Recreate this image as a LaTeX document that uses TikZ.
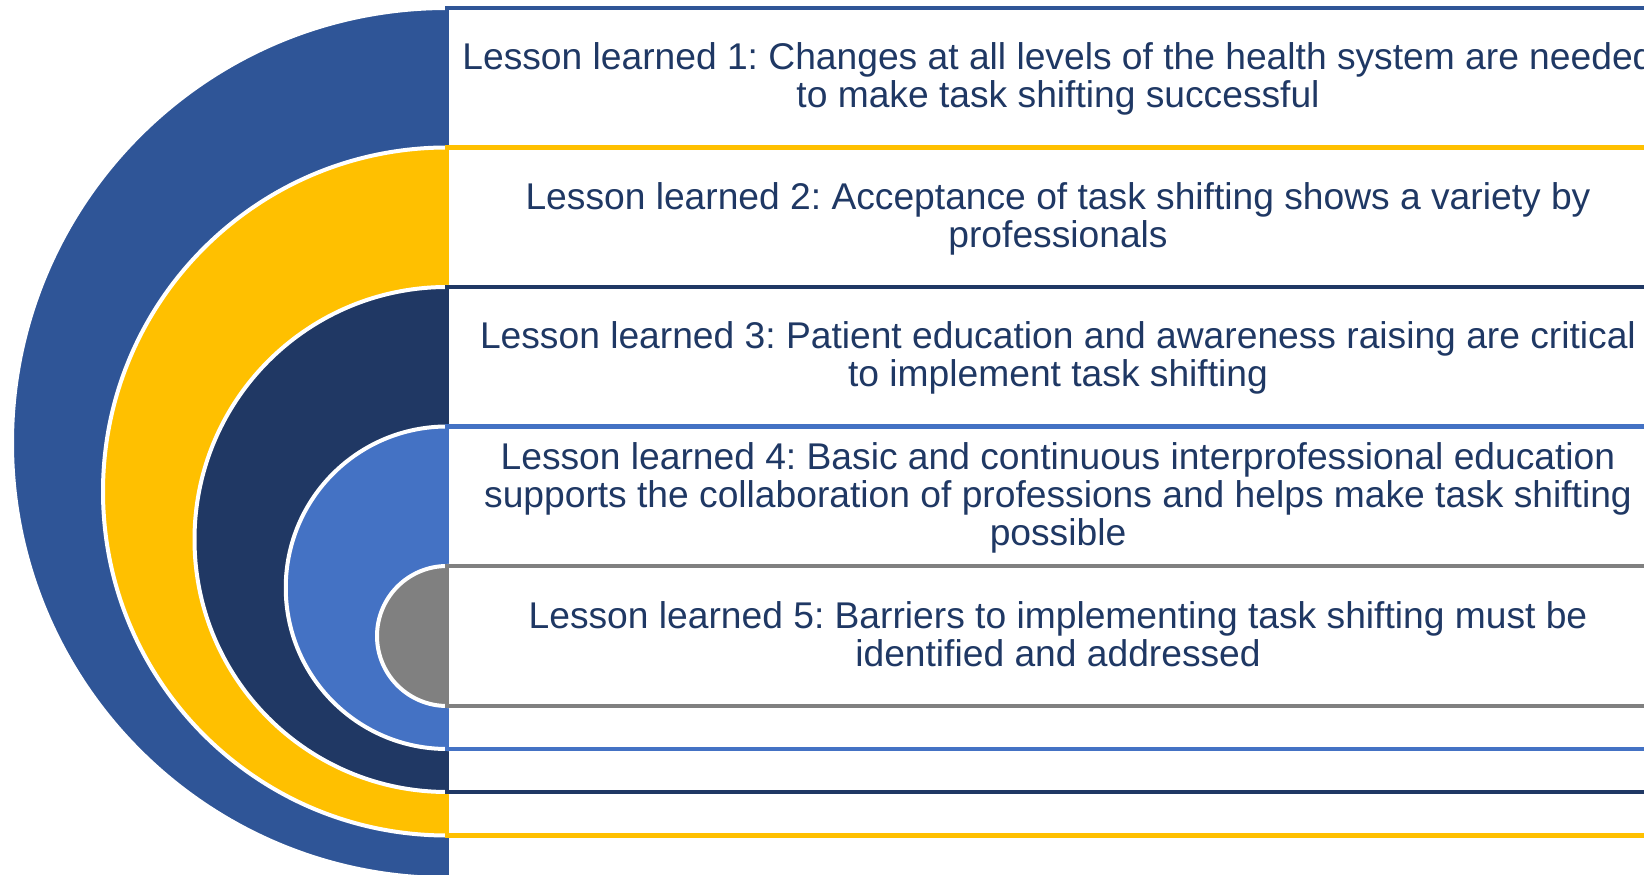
\documentclass[tikz,border=0pt]{standalone}
\usepackage{fontspec}
\setmainfont{Liberation Sans}
\frenchspacing
\definecolor{cblue}{HTML}{2F5597}
\definecolor{cyellow}{HTML}{FFC000}
\definecolor{cnavy}{HTML}{203864}
\definecolor{clight}{HTML}{4472C4}
\definecolor{cgray}{HTML}{808080}
\definecolor{txt}{HTML}{1F3864}
\tikzset{
  ring/.style={fill=#1, draw=white, line width=4pt},
  band/.style={fill=white, draw=#1, line width=4.8pt},
  lesson/.style={text=txt, align=center, inner sep=0pt,
    font=\fontsize{37.2}{37.8}\selectfont}
}
\begin{document}
\begin{tikzpicture}[x=1pt, y=1pt]
\useasboundingbox (0,0) rectangle (1644,875);
\clip (0,0) rectangle (1644,875);
\fill[white] (0,0) rectangle (1644,875);

% level 1
\path[ring=cblue] (447,867) arc[start angle=90, end angle=270, radius=435] -- cycle;
\path[band=cblue] (447,867) rectangle (1669,-25);
% level 2
\path[ring=cyellow] (447,727.5) arc[start angle=90, end angle=270, radius=344] -- cycle;
\path[band=cyellow] (447,727.5) rectangle (1669,39.5);
% level 3
\path[ring=cnavy] (447,588) arc[start angle=90, end angle=270, radius=252.5] -- cycle;
\path[band=cnavy] (447,588) rectangle (1669,83);
% level 4
\path[ring=clight] (447,448.5) arc[start angle=90, end angle=270, radius=161.25] -- cycle;
\path[band=clight] (447,448.5) rectangle (1669,126);
% level 5
\path[ring=cgray] (447,309) arc[start angle=90, end angle=270, radius=70] -- cycle;
\path[band=cgray] (447,309) rectangle (1669,169);

% lesson texts
\node[lesson] (l1) at (1058,796) {Lesson learned 1: Changes at all levels of the health system are needed\\to make task shifting successful};
\node[lesson] (l2) at (1058,656) {Lesson learned 2: Acceptance of task shifting shows a variety by\\professionals};
\node[lesson] (l3) at (1058,517) {Lesson learned 3: Patient education and awareness raising are critical\\to implement task shifting};
\node[lesson] (l4) at (1058,377) {Lesson learned 4: Basic and continuous interprofessional education\\supports the collaboration of professions and helps make task shifting\\possible};
\node[lesson] (l5) at (1058,241) {Lesson learned 5: Barriers to implementing task shifting must be\\identified and addressed};
\end{tikzpicture}
\end{document}
